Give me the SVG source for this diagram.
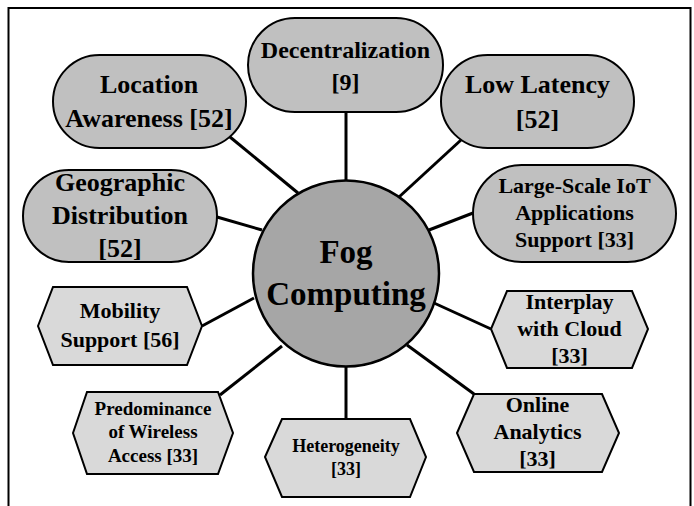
<svg xmlns="http://www.w3.org/2000/svg" width="694" height="506" viewBox="0 0 694 506">
<style>
.cap{fill:#c0c0c0;stroke:#000;stroke-width:2}
.hex{fill:#d9d9d9;stroke:#000;stroke-width:2}
.hub{fill:#a6a6a6;stroke:#000;stroke-width:2.5}
.ln{stroke:#000;stroke-width:3;fill:none}
text{font-family:"Liberation Serif","Times New Roman",serif;font-weight:bold;fill:#000;text-anchor:middle}
</style>
<rect x="0" y="0" width="694" height="506" fill="#fff"/>
<rect x="8.5" y="8" width="682" height="620" fill="none" stroke="#000" stroke-width="2"/>
<g id="connectors">
<line class="ln" x1="346" y1="112" x2="346" y2="182"/>
<line class="ln" x1="230" y1="137" x2="298" y2="193"/>
<line class="ln" x1="461" y1="140" x2="399" y2="197"/>
<line class="ln" x1="217" y1="217" x2="262" y2="230"/>
<line class="ln" x1="473" y1="213" x2="429" y2="230"/>
<line class="ln" x1="202" y1="326" x2="254" y2="298"/>
<line class="ln" x1="220" y1="395" x2="282" y2="346"/>
<line class="ln" x1="346" y1="365" x2="346" y2="419"/>
<line class="ln" x1="491" y1="329" x2="434" y2="303"/>
<line class="ln" x1="474" y1="394" x2="407" y2="345"/>
</g>
<g id="decentralization">
<rect class="cap" x="248" y="18" width="195" height="94" rx="47"/>
<text x="345.5" y="58" font-size="24">Decentralization</text>
<text x="345.5" y="90" font-size="24">[9]</text>
</g>
<g id="location-awareness">
<rect class="cap" x="53" y="55" width="193" height="93" rx="46.5"/>
<text x="149" y="93" font-size="26">Location</text>
<text x="149" y="127" font-size="26">Awareness [52]</text>
</g>
<g id="low-latency">
<rect class="cap" x="441" y="55" width="193" height="93" rx="46.5"/>
<text x="537.5" y="93" font-size="26">Low Latency</text>
<text x="537.5" y="128" font-size="26">[52]</text>
</g>
<g id="geographic-distribution">
<rect class="cap" x="23" y="170" width="194" height="92" rx="46"/>
<text x="120" y="191" font-size="26">Geographic</text>
<text x="120" y="224" font-size="26">Distribution</text>
<text x="120" y="257" font-size="26">[52]</text>
</g>
<g id="large-scale-iot">
<rect class="cap" x="473" y="165" width="203" height="97" rx="48.5"/>
<text x="574.5" y="193" font-size="22">Large-Scale IoT</text>
<text x="574.5" y="220" font-size="22">Applications</text>
<text x="574.5" y="247" font-size="22">Support [33]</text>
</g>
<g id="fog-computing">
<circle class="hub" cx="346" cy="273.5" r="93"/>
<text x="346" y="263" font-size="33">Fog</text>
<text x="346" y="305" font-size="33">Computing</text>
</g>
<g id="mobility-support">
<polygon class="hex" points="38,326 53,287 187,287 202,326 187,365 53,365"/>
<text x="120" y="318" font-size="22">Mobility</text>
<text x="120" y="347" font-size="22">Support [56]</text>
</g>
<g id="predominance-wireless">
<polygon class="hex" points="73,433 87,392 218,392 233,433 218,474 87,474"/>
<text x="153" y="415" font-size="19">Predominance</text>
<text x="153" y="438" font-size="19">of Wireless</text>
<text x="153" y="462" font-size="19">Access [33]</text>
</g>
<g id="heterogeneity">
<polygon class="hex" points="265,457 282,419 410,419 426,457 410,497 282,497"/>
<text x="346" y="452" font-size="18">Heterogeneity</text>
<text x="346" y="475" font-size="18">[33]</text>
</g>
<g id="interplay-cloud">
<polygon class="hex" points="491,329 507,291 632,291 648,329 632,368 507,368"/>
<text x="569.5" y="309" font-size="22">Interplay</text>
<text x="569.5" y="336" font-size="22">with Cloud</text>
<text x="569.5" y="363" font-size="22">[33]</text>
</g>
<g id="online-analytics">
<polygon class="hex" points="457,433 474,394 602,394 619,433 602,472 474,472"/>
<text x="537.5" y="412" font-size="22">Online</text>
<text x="537.5" y="439" font-size="22">Analytics</text>
<text x="537.5" y="466" font-size="22">[33]</text>
</g>
</svg>
